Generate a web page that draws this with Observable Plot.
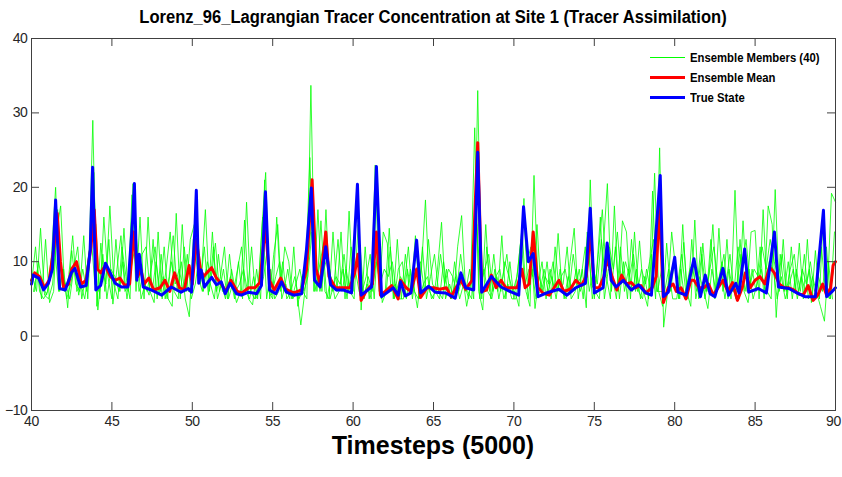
<!DOCTYPE html>
<html>
<head>
<meta charset="utf-8">
<script src="https://cdn.jsdelivr.net/npm/d3@7"></script>
<script src="https://cdn.jsdelivr.net/npm/@observablehq/plot@0.6"></script>
<style>
  html, body { margin: 0; padding: 0; background: #fff; }
  #wrap { position: relative; width: 842px; height: 477px; overflow: hidden; }
  #title { position: absolute; left: 31px; width: 804px; top: 8px; text-align: center;
    font-family: "Liberation Sans", Arial, sans-serif; line-height: 1;
    font-weight: bold; font-size: 18px; color: #000; transform: scaleX(0.92); transform-origin: 50% 0; }
  #xlabel { position: absolute; left: 31px; width: 804px; top: 433px; text-align: center; line-height: 1;
    font-family: "Liberation Sans", Arial, sans-serif; font-weight: bold; font-size: 25px; color: #000; }
  #legend { position: absolute; left: 650px; top: 47px;
    font-family: "Liberation Sans", Arial, sans-serif;
    font-weight: bold; font-size: 13px; color: #000; }
  .row { height: 20px; display: flex; align-items: center; white-space: nowrap; }
  .sw { width: 35px; margin-right: 5px; flex: none; }
  .lt { display: inline-block; transform: scaleX(0.87); transform-origin: 0 50%; }
</style>
</head>
<body>
<div id="wrap">
  <div id="chart"></div>
  <div id="title">Lorenz_96_Lagrangian Tracer Concentration at Site 1 (Tracer Assimilation)</div>
  <div id="xlabel">Timesteps (5000)</div>
  <div id="legend"></div>
</div>
<script>
// ---- tick labels ----
const xTicks = [40, 45, 50, 55, 60, 65, 70, 75, 80, 85, 90];
const yTicks = [-10, 0, 10, 20, 30, 40];

// ---- legend ----
const seriesNames = ["Ensemble Members (40)", "Ensemble Mean", "True State"];
const seriesColors = ["#00ff00", "#ff0000", "#0000ff"];

// ---- ensemble members (4 representative members, step 0.25) ----
// member 1 at t = 40, 40.25, ..., 90
const member1 = [
  7, 12, 6, 5,   6, 11, 20, 6,   9, 3.8, 11.5, 7,   6, 13.5, 5, 17,   15, 5, 16, 8,
  5, 13, 6, 14.5,   6, 19, 6, 16,   5, 16, 6, 10,   6, 12, 5, 4,   16.5, 5, 12, 6,
  6, 19, 7, 12,   5.5, 14, 6, 8,   12, 5, 7, 4.5,   6, 15.6, 5, 4.2,   9, 5, 21, 6,
  5, 16, 6, 12,   10, 5, 6, 1.5,   6, 11, 18, 6,   15.5, 6, 5, 14,   6, 14, 5, 16.8,
  6, 20, 3.5, 12,   5, 8, 22, 5,   6, 14.5, 5, 13,   5, 11, 6, 7,   3.8, 9, 18.3, 6,
  5, 9, 15.3, 5,   7, 5, 12, 16.2,   6, 9, 5, 33,   5, 15, 6, 11,   6, 13.5, 5, 10,
  5, 9, 14.5, 6,   4, 21.6, 7, 10,   5, 9, 6, 13.8,   6, 5, 10, 14.5,   5, 9, 3.8, 21,
  5, 11, 17, 8,   5, 17.5, 6, 15.5,   14, 5, 14, 6,   5, 9, 6, 21.9,   6, 4, 12.5, 6,
  10.5, 5, 15, 6,   4, 15.6, 5, 12.5,   6, 13, 5, 14.5,   6, 13, 5, 19.6,   5, 15.5, 6, 14,
  14.2, 5, 17, 6,   5, 19.7, 6, 13,   5, 12, 6, 12.5,   5, 13, 4.5, 11.5,   5, 17, 6, 19.2,
  18
];
// member 2 at t = 40.0625, 40.3125, ...
const member2 = [
  8, 6, 14.5, 5.5,   5, 7, 14, 17.5,   6, 8, 13.5, 6,   7, 5, 9, 29,   4, 12.5, 6, 13,
  4.3, 9, 13.5, 6,   7, 20.5, 12, 5,   7, 5.5, 13, 5,   11, 5, 8, 13.5,   6, 10, 5, 2.6,
  13, 9, 8, 17,   6, 12, 5, 7,   5, 11, 6, 9,   12, 6, 5, 8,   5, 14, 22, 5,
  11, 15, 5, 7,   5, 12, 4, 8,   9, 24, 6, 17,   6, 17, 5, 7,   13, 6, 9, 6,
  5, 15, 6, 8,   11, 5, 14, 4.5,   6, 12, 5, 9,   10, 5, 9, 6,   5, 12, 5, 8,
  11, 6, 5, 9,   5, 10, 6, 8,   4, 7, 28, 6,   3.5, 12, 5, 9,   5, 8, 11, 6,
  6, 4, 17, 10,   12, 3.7, 8, 6,   10, 5, 12, 6,   7, 12, 5, 6,   9, 5, 14, 7,
  6, 5, 12, 20.5,   6, 12, 5, 10,   5, 13, 6, 12.8,   6, 4, 11, 5,   25.3, 1.2, 6, 14,
  9, 5, 12.6, 5,   13, 5, 8, 6,   3.7, 9, 6, 8,   11, 5, 7, 5,   13, 6, 4.5, 9,
  6, 12, 5, 17.5,   15, 2.5, 11, 6,   10, 5, 9, 6,   11, 5, 8, 6,   4, 2, 10, 5
];
// member 3 at t = 40.125, 40.375, ...
const member3 = [
  6, 9, 5, 13,   4.5, 6, 17, 8,   7, 5, 9, 12,   5, 8, 12, 22,   3.5, 9, 7, 17.5,
  7, 5, 12, 8,   5, 20, 8, 11,   12, 6, 4.5, 14,   5, 9, 14, 6,   5, 15, 6, 13,
  15, 8, 6, 9,   7, 5, 11, 6,   6, 8, 5, 10,   5, 18, 6, 5,   7, 16, 5, 9,
  5, 6, 10, 5,   6, 8, 5, 6,   5, 33.7, 6, 9,   12, 5, 8, 5,   6, 9, 5, 12,
  9, 6, 5, 7,   5, 23, 6, 14,   12.5, 6, 7, 5,   5, 9, 6, 13.5,   5, 7, 8, 5,
  6, 5, 10, 6,   5, 8, 5, 7,   6, 5, 18, 5,   9, 6, 5, 8,   9, 5, 7, 5,
  5, 9, 18.5, 5,   9, 5, 6, 9,   6, 8, 5, 9,   5, 8, 6, 9,   6, 8, 13, 5,
  8, 16, 5, 9,   8, 5, 12, 6,   9, 6, 9, 5,   8, 5, 19.5, 6,   6, 6, 9, 5,
  5, 9, 5, 7,   9, 6, 12, 5,   8, 15, 6, 9,   5, 9, 6, 7,   11, 6, 9, 5,
  7, 9, 6, 10,   9, 5, 8, 5,   7, 9, 5, 8,   6, 9, 5, 7,   12, 6, 5, 9
];
// member 4 at t = 40.1875, 40.4375, ...
const member4 = [
  6, 10, 7, 5.5,   8, 12, 6, 9,   5, 7, 10, 5.5,   9, 6, 14, 7,   6, 11, 5, 9,
  8, 6, 10, 5,   9, 12, 6, 8,   6, 9, 12, 5.5,   8, 5, 10, 7,   9, 6, 11, 5,
  7, 11, 6, 10,   8, 12.5, 6, 9,   5, 9, 6, 7,   9, 6, 12, 5,   6, 8, 12, 5.5,
  8, 10, 6, 9,   5, 7, 9, 6,   8, 14, 10, 6,   9, 11, 6, 8,   7, 11, 6, 9,
  10, 12, 5, 8,   6, 10, 7, 9,   8, 10, 6, 8,   7, 12, 5, 9,   10, 6, 13, 7,
  6, 11, 7, 9,   8, 6, 11, 7,   5, 10, 15, 7,   9, 11, 6, 8,   6, 10, 8, 6,
  8, 13, 7, 9,   8, 15, 6, 8,   7, 10, 6, 8,   9, 6, 11, 7,   8, 12, 6, 9,
  7, 13, 8, 12,   9, 14, 7, 10,   8, 11, 6, 9,   7, 10, 13, 6,   9, 5, 8, 10,
  7, 11, 6, 9,   10, 7, 11, 6,   9, 12, 7, 10,   7, 11, 6, 12,   9, 13, 7, 9,
  8, 12, 9, 13,   10, 8, 11, 6,   9, 11, 6, 9,   7, 10, 6, 8,   6, 12, 5, 14
];

// ---- ensemble mean ----
const meanT = [40,40.2,40.5,40.8,41.1,41.4,41.6,41.8,42,42.3,42.5,42.8,43.1,43.4,43.7,43.9,44.1,44.3,44.6,44.9,
  45.2,45.5,45.8,46.1,46.35,46.6,46.8,47,47.3,47.6,48,48.3,48.6,48.9,49.2,49.5,49.8,50,50.25,50.5,
  50.7,50.9,51.2,51.5,51.8,52.1,52.4,52.8,53.1,53.5,53.9,54.2,54.55,54.8,55.1,55.5,55.8,56.3,56.8,57.1,
  57.45,57.7,57.95,58.3,58.5,58.9,59.3,59.8,60.1,60.3,60.5,60.8,61.2,61.45,61.7,62,62.4,62.8,62.95,63.3,
  63.6,63.95,64.2,64.6,65,65.4,65.8,66.1,66.4,66.7,67,67.4,67.75,68,68.3,68.6,68.9,69.2,69.5,69.9,
  70.2,70.5,70.7,70.95,71.2,71.5,71.8,72.2,72.5,72.8,73.1,73.5,73.85,74.2,74.5,74.75,75,75.3,75.6,75.8,
  76.1,76.4,76.7,77,77.3,77.6,77.9,78.2,78.6,78.85,79.05,79.3,79.6,79.9,80.1,80.4,80.7,81,81.2,81.5,
  81.8,82.1,82.4,82.7,83,83.3,83.6,83.9,84.2,84.4,84.7,85,85.3,85.6,85.9,86.2,86.5,86.8,87.1,87.4,
  87.7,88,88.3,88.6,88.9,89.2,89.45,89.7,89.85,90];
const meanV = [7.5,8.5,8,6.5,7.5,12,16.5,10,6.5,7,9,10,7,7.5,12,17,9,8.5,9.5,8,
  7.5,7.8,6.8,7,14,8,9,7,7.8,6.2,6.5,7.5,6,8.5,6.5,6.2,9.5,7,13,9,
  8,8.5,9.2,7.8,7,6,7.5,6,5.8,6.5,6.5,7.2,15,7.5,6.2,7.8,6.3,5.8,6.2,9,
  21,9,7,14,8,6.5,6.5,6.5,8.5,11,4.8,6,7,14,5.5,6,6.8,5,7.5,6.5,
  6,9,5.2,6.5,6.5,6.3,6.5,5.3,6.5,7.5,6.3,7.5,26,6,6.2,8.2,6.5,7.5,6.5,6.5,
  6.5,9,6.5,7,14,6.5,5.8,5.5,6.5,7.5,6,6.3,7.5,6.8,8,14,6.5,6.5,8,10.5,
  8,6.2,8.2,7,7.2,6.5,6.8,5.8,6.5,8,18,4.5,6.5,7,6,6.5,5,7.5,7.5,6.5,
  6.5,7,5.5,6.5,7.5,6,7.2,4.8,6.5,8.5,6.5,7.5,8,7,9.3,8.5,7,6.5,6.5,6.2,
  5.7,5.5,6.8,4.8,5.5,7,5.5,6.5,9.5,10];

// ---- true state ----
const trueT = [40,40.1,40.45,40.75,41.05,41.3,41.5,41.75,42.1,42.5,42.7,43.05,43.4,43.65,43.8,44,44.3,44.6,44.9,45.2,
  45.6,46,46.3,46.4,46.55,46.7,46.95,47.45,48.1,48.7,49.3,49.75,49.95,50.15,50.25,50.4,50.55,50.75,51.2,51.5,
  51.8,52.05,52.35,52.75,53.05,53.5,54,54.3,54.55,54.8,55.2,55.55,55.85,56.3,56.8,57.1,57.4,57.6,57.95,58.3,
  58.6,58.95,59.4,59.9,60.27,60.5,61.15,61.45,61.77,62.2,62.5,62.8,62.95,63.25,63.6,63.95,64.2,64.7,65.1,65.75,
  66.35,66.7,67,67.5,67.75,68,68.6,69.2,69.85,70.3,70.6,70.9,71.2,71.5,72.15,72.8,73.3,73.85,74.45,74.75,
  75,75.55,75.8,76.05,76.35,76.8,77.3,77.75,78.2,78.55,79.1,79.3,79.6,80,80.2,80.7,81.2,81.6,81.9,82.2,
  82.5,83,83.35,83.8,84,84.35,84.6,85.2,85.7,86.2,86.45,87.1,87.6,88.1,88.75,89.25,89.45,89.75,90];
const trueV = [7,8.2,7.8,6.2,7.1,9,18.3,6.4,6.2,8.6,9.1,6.6,6.8,11.6,22.7,6.2,6.8,9.8,8.5,7.1,
  6.6,6.6,16,20.5,7.5,11,6.6,6.2,5.5,6.6,5.9,6.4,5.9,13.8,19.6,7.1,8.9,6.6,7.9,6.9,
  7.3,5.7,7.1,5.7,5.5,5.9,5.7,6.8,19.4,6.2,5.7,7.3,5.9,5.5,5.7,11.6,19.9,7.5,6.6,12,
  6.9,6.2,6.2,5.8,20.4,5.5,6.6,22.8,5.3,6,6.5,5.5,7.3,5.4,5.8,12.9,5.8,6.7,5.9,5.8,
  5.1,8.5,6.5,6.2,24.7,5.9,8,6.6,5.9,5.5,17.4,10,11.1,5.3,5.9,6.3,5.5,6.5,7.1,17.2,
  5.8,6.5,12.5,7.5,6.6,7.5,6.2,6.9,5.8,5.5,21.6,5.3,5.9,10.6,5.9,5.5,10.4,5.3,8.2,5.7,
  5.3,9.1,5.5,7.1,5.8,11.7,5.9,6.4,5.8,14,6.6,6.4,5.8,5.3,5.3,16.9,5.3,5.9,6.5];

// ---- build tables ----
const members = [
  {id: 1, start: 40, vals: member1},
  {id: 2, start: 40.0625, vals: member2},
  {id: 3, start: 40.125, vals: member3},
  {id: 4, start: 40.1875, vals: member4}
];
const ens = members.flatMap(m => m.vals.map((v, i) => ({m: m.id, t: m.start + i * 0.25, v})))
  .filter(d => d.t <= 90);
const mean = meanT.map((t, i) => ({t, v: meanV[i]}));
const truth = trueT.map((t, i) => ({t, v: trueV[i]}));

const W = 842, H = 477, mT = 38, mB = 67, mL = 31, mR = 7;
const innerH = H - mT - mB, innerW = W - mL - mR, tickLen = 8;
const axisColor = "#404040";
const xMain = xTicks.slice(0, -1), xLast = xTicks.slice(-1);

const chart = Plot.plot({
  width: W, height: H,
  marginTop: mT, marginBottom: mB, marginLeft: mL, marginRight: mR,
  style: {fontFamily: "'Liberation Sans', Arial, sans-serif", fontSize: "14px", color: "#262626", background: "#fff", letterSpacing: "-0.4px"},
  x: {domain: [40, 90], label: null},
  y: {domain: [-10, 40], label: null},
  marks: [
    Plot.lineY(ens, {x: "t", y: "v", z: "m", stroke: seriesColors[0], strokeWidth: 0.8}),
    Plot.lineY(mean, {x: "t", y: "v", stroke: seriesColors[1], strokeWidth: 3}),
    Plot.lineY(truth, {x: "t", y: "v", stroke: seriesColors[2], strokeWidth: 3}),
    Plot.frame({stroke: axisColor, strokeWidth: 1}),
    // inward ticks (MATLAB style) on all four sides
    Plot.tickX(xTicks, {x: d => d, stroke: axisColor, insetTop: innerH - tickLen}),
    Plot.tickX(xTicks, {x: d => d, stroke: axisColor, insetBottom: innerH - tickLen}),
    Plot.tickY(yTicks, {y: d => d, stroke: axisColor, insetRight: innerW - tickLen}),
    Plot.tickY(yTicks, {y: d => d, stroke: axisColor, insetLeft: innerW - tickLen}),
    Plot.axisX(xMain, {tickSize: 0, tickPadding: 6, label: null, fill: "#262626"}),
    Plot.axisX(xLast, {tickSize: 0, tickPadding: 6, label: null, fill: "#262626", dx: -2}),
    Plot.axisY(yTicks, {tickSize: 0, tickPadding: 4, label: null, fill: "#262626"})
  ]
});
document.getElementById("chart").appendChild(chart);

// legend
const leg = document.getElementById("legend");
seriesNames.forEach((name, i) => {
  const row = document.createElement("div");
  row.className = "row";
  const sw = document.createElement("span");
  sw.className = "sw";
  sw.style.borderTop = `${i === 0 ? 1 : 3}px solid ${seriesColors[i]}`;
  const tx = document.createElement("span");
  tx.className = "lt";
  tx.textContent = name;
  row.appendChild(sw); row.appendChild(tx);
  leg.appendChild(row);
});
</script>
</body>
</html>
